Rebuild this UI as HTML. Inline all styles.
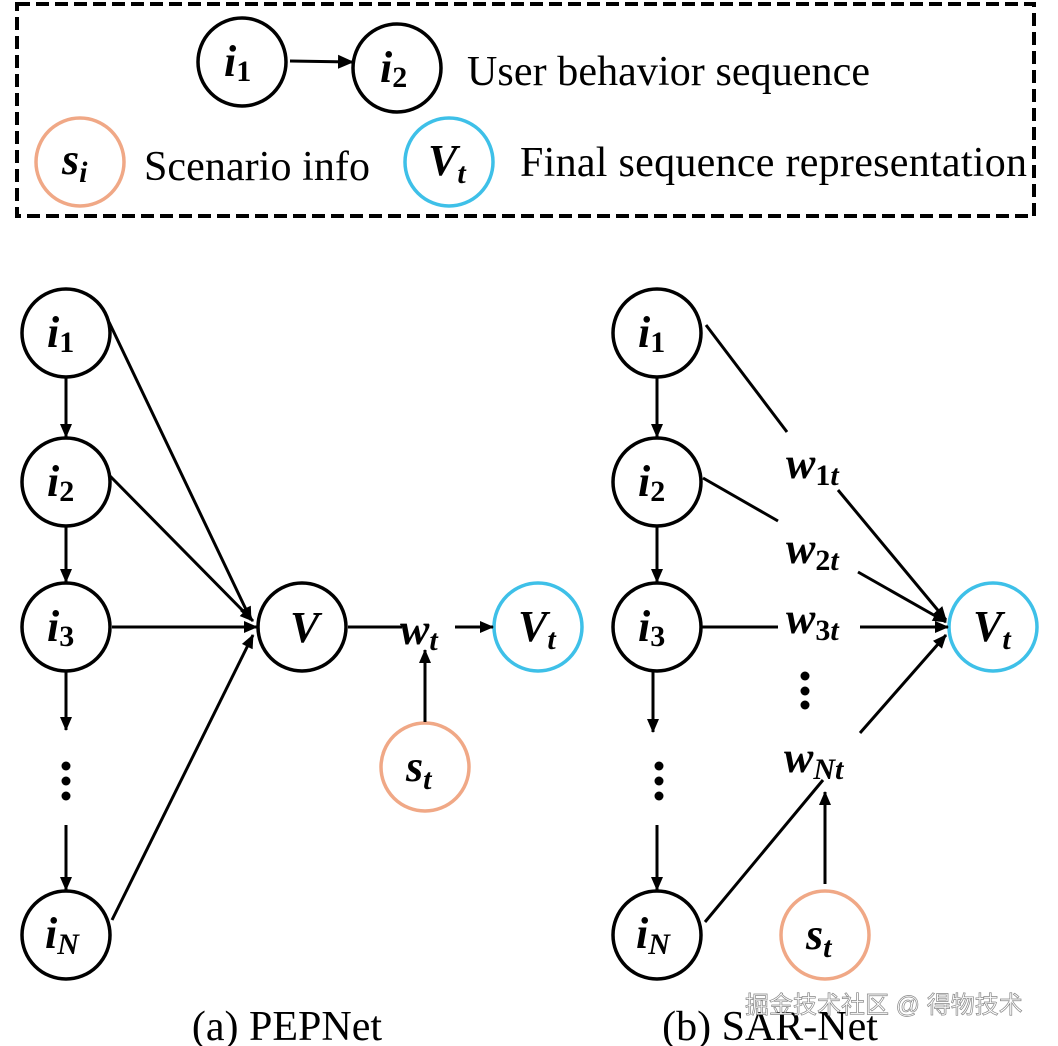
<!DOCTYPE html>
<html><head><meta charset="utf-8"><style>
html,body{margin:0;padding:0;background:#fff;}
svg{display:block;}
.m{font-family:"Liberation Serif",serif;font-weight:bold;font-style:italic;font-size:44px;}
.s{font-size:30px;}
.t{font-family:"Liberation Serif",serif;font-size:42px;}
</style></head><body>
<svg width="1058" height="1046" viewBox="0 0 1058 1046" xmlns="http://www.w3.org/2000/svg">
<defs>
<marker id="a" markerWidth="14" markerHeight="14" refX="13" refY="7" orient="auto" markerUnits="userSpaceOnUse" viewBox="0 0 14 14">
<path d="M0,1 L14,7 L0,13 z" fill="#000"/></marker>
<marker id="b" markerWidth="16" markerHeight="16" refX="14" refY="8" orient="auto" markerUnits="userSpaceOnUse" viewBox="0 0 16 16">
<path d="M0,1 L16,8 L0,15 z" fill="#000"/></marker>
</defs>
<rect x="17" y="4" width="1017" height="212" fill="none" stroke="#000" stroke-width="4" stroke-dasharray="13,6"/>
<g fill="none" stroke-width="3.5">
<circle cx="242" cy="62" r="44" stroke="#000"/>
<circle cx="397" cy="68" r="44" stroke="#000"/>
<circle cx="80" cy="162" r="44" stroke="#F0A886"/>
<circle cx="449" cy="162" r="44" stroke="#3EC0E8"/>
</g>
<g stroke="#000" stroke-width="3" fill="none">
<line x1="290" y1="61" x2="352" y2="62" marker-end="url(#b)"/>
</g>
<text class="m" x="224" y="76">i<tspan class="s" dy="5" font-style="normal">1</tspan></text>
<text class="m" x="380" y="82">i<tspan class="s" dy="5" font-style="normal">2</tspan></text>
<text class="m" x="62" y="174">s<tspan class="s" dy="8">i</tspan></text>
<text class="m" x="428" y="175">V<tspan class="s" dy="8">t</tspan></text>
<text class="t" x="467" y="85" textLength="403">User behavior sequence</text>
<text class="t" x="144" y="180" textLength="226">Scenario info</text>
<text class="t" x="520" y="176" textLength="507">Final sequence representation</text>

<g fill="none" stroke-width="3.5">
<circle cx="66" cy="333" r="44" stroke="#000"/>
<circle cx="66" cy="482" r="44" stroke="#000"/>
<circle cx="66" cy="627" r="44" stroke="#000"/>
<circle cx="66" cy="935" r="44" stroke="#000"/>
<circle cx="302" cy="627" r="44" stroke="#000"/>
<circle cx="538" cy="627" r="44" stroke="#3EC0E8"/>
<circle cx="425" cy="767" r="44" stroke="#F0A886"/>
<circle cx="657" cy="333" r="44" stroke="#000"/>
<circle cx="657" cy="482" r="44" stroke="#000"/>
<circle cx="657" cy="627" r="44" stroke="#000"/>
<circle cx="657" cy="935" r="44" stroke="#000"/>
<circle cx="993" cy="627" r="44" stroke="#3EC0E8"/>
<circle cx="825" cy="935" r="44" stroke="#F0A886"/>
</g>
<g stroke="#000" stroke-width="3" fill="none">
<line x1="66" y1="377" x2="66" y2="437" marker-end="url(#a)"/>
<line x1="66" y1="526" x2="66" y2="582" marker-end="url(#a)"/>
<line x1="66" y1="672" x2="66" y2="730" marker-end="url(#a)"/>
<line x1="66" y1="825" x2="66" y2="890" marker-end="url(#a)"/>
<line x1="109" y1="322" x2="251" y2="620" marker-end="url(#a)"/>
<line x1="110" y1="476" x2="253" y2="621" marker-end="url(#a)"/>
<line x1="112" y1="627" x2="257" y2="627" marker-end="url(#a)"/>
<line x1="112" y1="920" x2="253" y2="635" marker-end="url(#a)"/>
<line x1="348" y1="627" x2="402" y2="627"/>
<line x1="455" y1="627" x2="493" y2="627" marker-end="url(#a)"/>
<line x1="425" y1="722" x2="425" y2="650" marker-end="url(#a)"/>

<line x1="657" y1="377" x2="657" y2="437" marker-end="url(#a)"/>
<line x1="657" y1="526" x2="657" y2="582" marker-end="url(#a)"/>
<line x1="653" y1="672" x2="653" y2="732" marker-end="url(#a)"/>
<line x1="657" y1="825" x2="657" y2="890" marker-end="url(#a)"/>
<line x1="706" y1="325" x2="787" y2="432"/>
<line x1="838" y1="490" x2="946" y2="620" marker-end="url(#a)"/>
<line x1="703" y1="478" x2="778" y2="521"/>
<line x1="858" y1="572" x2="946" y2="622" marker-end="url(#a)"/>
<line x1="702" y1="627" x2="778" y2="627"/>
<line x1="860" y1="627" x2="948" y2="627" marker-end="url(#a)"/>
<line x1="860" y1="733" x2="946" y2="635" marker-end="url(#a)"/>
<line x1="705" y1="922" x2="823" y2="780"/>
<line x1="825" y1="884" x2="825" y2="792" marker-end="url(#a)"/>
</g>
<text class="m" x="47" y="347">i<tspan class="s" dy="5" font-style="normal">1</tspan></text>
<text class="m" x="47" y="496">i<tspan class="s" dy="5" font-style="normal">2</tspan></text>
<text class="m" x="47" y="641">i<tspan class="s" dy="5" font-style="normal">3</tspan></text>
<text class="m" x="45" y="948">i<tspan class="s" dy="6">N</tspan></text>
<text class="m" x="290" y="642">V</text>
<text class="m" x="518" y="641">V<tspan class="s" dy="8">t</tspan></text>
<text class="m" x="400" y="644">w<tspan class="s" dy="6">t</tspan></text>
<text class="m" x="406" y="781">s<tspan class="s" dy="8">t</tspan></text>
<g fill="#000"><circle cx="66" cy="766" r="4.5"/><circle cx="66" cy="781" r="4.5"/><circle cx="66" cy="796" r="4.5"/>
<circle cx="659" cy="766" r="4.5"/><circle cx="659" cy="781" r="4.5"/><circle cx="659" cy="796" r="4.5"/>
<circle cx="805" cy="676" r="4.5"/><circle cx="805" cy="691" r="4.5"/><circle cx="805" cy="705" r="4.5"/></g>

<text class="m" x="638" y="347">i<tspan class="s" dy="5" font-style="normal">1</tspan></text>
<text class="m" x="638" y="496">i<tspan class="s" dy="5" font-style="normal">2</tspan></text>
<text class="m" x="638" y="641">i<tspan class="s" dy="5" font-style="normal">3</tspan></text>
<text class="m" x="636" y="948">i<tspan class="s" dy="6">N</tspan></text>
<text class="m" x="973" y="641">V<tspan class="s" dy="8">t</tspan></text>
<text class="m" x="806" y="949">s<tspan class="s" dy="8">t</tspan></text>
<text class="m" x="786" y="478">w<tspan class="s" dy="7" font-style="normal">1</tspan><tspan class="s">t</tspan></text>
<text class="m" x="786" y="563">w<tspan class="s" dy="7" font-style="normal">2</tspan><tspan class="s">t</tspan></text>
<text class="m" x="786" y="633">w<tspan class="s" dy="7" font-style="normal">3</tspan><tspan class="s">t</tspan></text>
<text class="m" x="784" y="772">w<tspan class="s" dy="7">Nt</tspan></text>

<text class="t" x="287" y="1040" text-anchor="middle">(a) PEPNet</text>
<text class="t" x="770" y="1040" text-anchor="middle">(b) SAR-Net</text>
<text x="745" y="1013" font-family="'Liberation Sans','Noto Sans CJK SC',sans-serif" font-size="24" fill="#fff" stroke="#888" stroke-width="0.7">掘金技术社区 @ 得物技术</text>
</svg>
</body></html>
